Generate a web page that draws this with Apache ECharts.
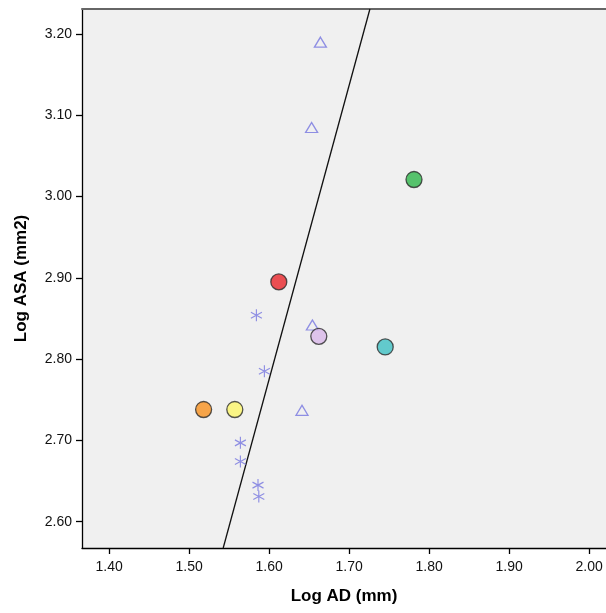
<!DOCTYPE html>
<html>
<head>
<meta charset="utf-8">
<script src="https://cdn.jsdelivr.net/npm/echarts@6/dist/echarts.min.js"></script>
<style>
  html, body { margin: 0; padding: 0; background: #ffffff; }
  #chart { width: 606px; height: 613px; }
</style>
</head>
<body>
<div id="chart"></div>
<script>
// Tick positions on both axes
var xTicks = [1.40, 1.50, 1.60, 1.70, 1.80, 1.90, 2.00];
var yTicks = [2.60, 2.70, 2.80, 2.90, 3.00, 3.10, 3.20];

// Filled circle group (one colour per point)
var circleX = [1.781, 1.612, 1.662, 1.745, 1.518, 1.557];
var circleY = [3.021, 2.895, 2.828, 2.815, 2.738, 2.738];
var circleColors = ['#2fb64b', '#e8262b', '#d9b8ea', '#3ec0c3', '#f7911f', '#fcf66a'];

// Open triangle group
var triX = [1.664, 1.653, 1.654, 1.641];
var triY = [3.190, 3.085, 2.842, 2.737];

// Asterisk group
var starX = [1.584, 1.594, 1.564, 1.564, 1.586, 1.587];
var starY = [2.854, 2.785, 2.697, 2.674, 2.645, 2.631];

// Fit line end points
var lineX = [1.5425, 1.7259];
var lineY = [2.5676, 3.2308];

var xMin = 1.366, xMax = 2.021;
var yMin = 2.5676, yMax = 3.2308;

var markerBlue = '#7676e0';
var asteriskPath = 'path://M0,-10L0,10M-8.66,-5L8.66,5M-8.66,5L8.66,-5';

function pairs(xs, ys) {
  return xs.map(function (x, i) { return [x, ys[i]]; });
}

var chart = echarts.init(document.getElementById('chart'), null, { renderer: 'canvas' });

var labelFont = { fontFamily: 'Liberation Sans, Arial, sans-serif', fontSize: 14, color: '#111' };

chart.setOption({
  animation: false,
  backgroundColor: '#ffffff',
  grid: {
    left: 82, top: 9, width: 524, height: 539,
    show: true, backgroundColor: '#f0f0f0', borderWidth: 0
  },
  xAxis: [{
    type: 'value', min: xMin, max: xMax,
    name: 'Log AD (mm)', nameLocation: 'middle', nameGap: 40,
    nameTextStyle: { fontFamily: 'Liberation Sans, Arial, sans-serif', fontSize: 17, fontWeight: 'bold', color: '#000' },
    axisLine: { show: true, onZero: false, lineStyle: { color: '#000', width: 1.3 } },
    axisTick: { show: true, inside: false, length: 6, customValues: xTicks, lineStyle: { color: '#000', width: 1.3 } },
    axisLabel: Object.assign({ customValues: xTicks, margin: 12, formatter: function (v) { return v.toFixed(2); } }, labelFont),
    splitLine: { show: false }
  }, {
    type: 'value', min: xMin, max: xMax, position: 'top',
    axisLine: { show: true, onZero: false, lineStyle: { color: '#666', width: 2 } },
    axisTick: { show: false }, axisLabel: { show: false }, splitLine: { show: false }
  }],
  yAxis: {
    type: 'value', min: yMin, max: yMax,
    name: 'Log ASA (mm2)', nameLocation: 'middle', nameGap: 52,
    nameTextStyle: { fontFamily: 'Liberation Sans, Arial, sans-serif', fontSize: 17, fontWeight: 'bold', color: '#000' },
    axisLine: { show: true, onZero: false, lineStyle: { color: '#000', width: 1.3 } },
    axisTick: { show: true, inside: false, length: 6, customValues: yTicks, lineStyle: { color: '#000', width: 1.3 } },
    axisLabel: Object.assign({ customValues: yTicks, margin: 10, formatter: function (v) { return v.toFixed(2); } }, labelFont),
    splitLine: { show: false }
  },
  series: [{
    type: 'line',
    data: pairs(lineX, lineY),
    showSymbol: false, symbol: 'none', silent: true, clip: true,
    lineStyle: { color: '#111', width: 1.3 },
    z: 2
  }, {
    type: 'scatter',
    data: pairs(triX, triY),
    symbol: 'triangle', symbolSize: [12, 10],
    itemStyle: { color: 'rgba(0,0,0,0)', borderColor: markerBlue, borderWidth: 1.3 },
    z: 3
  }, {
    type: 'scatter',
    data: pairs(starX, starY),
    symbol: asteriskPath, symbolSize: [11, 12],
    itemStyle: { color: 'rgba(0,0,0,0)', borderColor: markerBlue, borderWidth: 1.2 },
    z: 3
  }, {
    type: 'scatter',
    data: circleX.map(function (x, i) {
      return { value: [x, circleY[i]], itemStyle: { color: circleColors[i] } };
    }),
    symbol: 'circle', symbolSize: 16,
    itemStyle: { borderColor: '#2a2a2a', borderWidth: 1.3 },
    z: 4
  }]
});
</script>
</body>
</html>
